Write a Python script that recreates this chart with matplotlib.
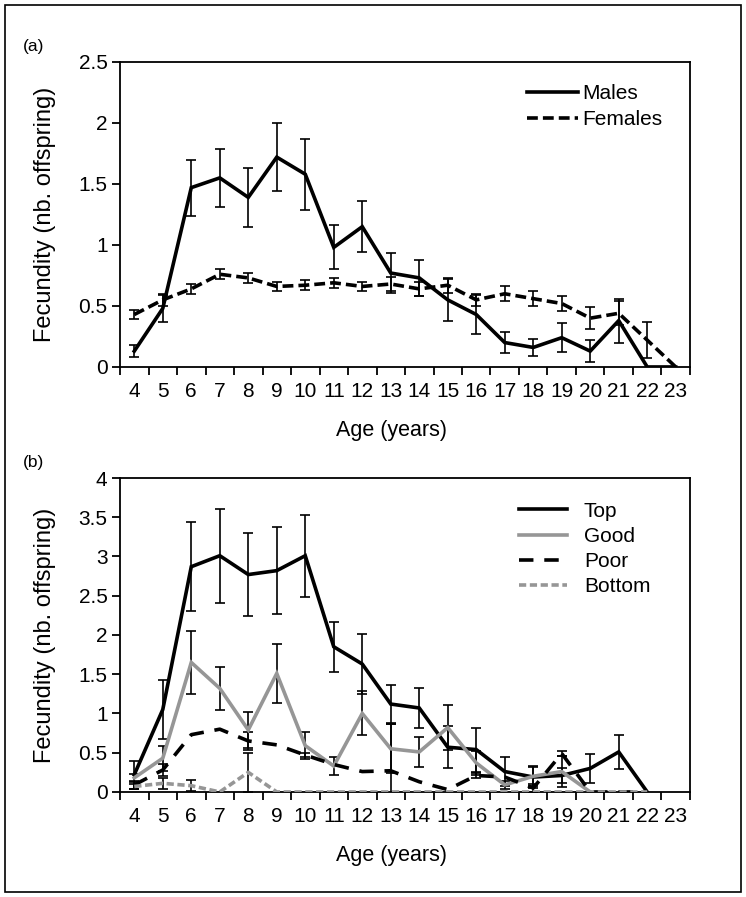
import numpy as np
import matplotlib.pyplot as plt
from matplotlib.patches import Rectangle

plt.rcParams['font.family'] = ['Liberation Sans', 'DejaVu Sans']

nan = np.nan
ages = [str(a) for a in range(4, 24)]

# panel (a): sexes
males = [0.13, 0.48, 1.47, 1.55, 1.39, 1.72, 1.58, 0.98, 1.15, 0.77, 0.73, 0.55, 0.43, 0.20, 0.16, 0.24, 0.13, 0.38, 0.0, 0.0]
males_err = [0.05, 0.11, 0.23, 0.24, 0.24, 0.28, 0.29, 0.18, 0.21, 0.165, 0.15, 0.17, 0.16, 0.085, 0.07, 0.12, 0.09, 0.18, nan, nan]
females = [0.43, 0.55, 0.64, 0.76, 0.73, 0.66, 0.67, 0.69, 0.66, 0.68, 0.64, 0.67, 0.55, 0.60, 0.56, 0.52, 0.40, 0.44, 0.22, 0.0]
females_err = [0.04, 0.05, 0.04, 0.04, 0.04, 0.04, 0.04, 0.04, 0.04, 0.06, 0.06, 0.06, 0.05, 0.06, 0.06, 0.06, 0.09, 0.10, 0.15, nan]

# panel (b): male quality classes
top = [0.22, 1.05, 2.87, 3.01, 2.77, 2.82, 3.01, 1.85, 1.63, 1.12, 1.07, 0.57, 0.54, 0.26, 0.19, 0.21, 0.30, 0.51, 0.0, nan]
top_err = [0.18, 0.38, 0.57, 0.60, 0.53, 0.55, 0.52, 0.32, 0.38, 0.24, 0.26, 0.27, 0.28, 0.19, 0.14, 0.10, 0.18, 0.22, nan, nan]
good = [0.18, 0.43, 1.65, 1.32, 0.79, 1.51, 0.59, 0.33, 1.00, 0.55, 0.51, 0.82, 0.37, 0.09, 0.20, 0.26, 0.0, nan, nan, nan]
good_err = [0.05, 0.16, 0.40, 0.27, 0.23, 0.38, 0.17, 0.11, 0.28, 0.31, 0.19, 0.29, 0.15, 0.05, 0.12, 0.20, nan, nan, nan, nan]
poor = [0.09, 0.28, 0.73, 0.80, 0.65, 0.60, 0.47, 0.35, 0.26, 0.27, 0.13, 0.03, 0.21, 0.19, 0.05, 0.49, 0.0, 0.0, 0.0, nan]
poor_err = [0.05, 0.08, nan, nan, 0.12, nan, 0.03, nan, nan, 0.60, nan, nan, 0.03, nan, 0.05, 0.03, nan, nan, nan, nan]
bottom = [0.07, 0.11, 0.08, 0.0, 0.25, 0.0, 0.0, 0.0, 0.0, 0.0, 0.0, 0.0, 0.0, 0.0, 0.0, 0.0, 0.0, 0.0, 0.0, nan]
bottom_err = [0.03, 0.07, 0.07, nan, 0.25, nan, nan, nan, nan, nan, nan, nan, nan, nan, nan, nan, nan, nan, nan, nan]

GREY = '#969696'
LW = 2.6
FS = 15


def style_axes(ax, ymax, ystep, xlab_y):
    x = np.arange(len(ages))
    ax.set_xlim(-0.5, len(ages) - 0.5)
    ax.set_ylim(0, ymax)
    ax.set_xticks(np.arange(-0.5, len(ages), 1))
    ax.set_xticklabels([])
    ax.set_xticks(x, minor=True)
    ax.set_xticklabels(ages, minor=True, fontsize=FS)
    ax.tick_params(axis='x', which='major', direction='out', length=6, width=1.3)
    ax.tick_params(axis='x', which='minor', length=0, pad=11)
    yt = np.arange(0, ymax + 0.01, ystep)
    ax.set_yticks(yt)
    ax.set_yticklabels(['%g' % v for v in yt], fontsize=FS)
    ax.tick_params(axis='y', direction='out', length=6, width=1.3, pad=3)
    for s in ax.spines.values():
        s.set_linewidth(1.3)
    ax.set_xlabel('Age (years)', fontsize=FS + 0.5)
    ax.xaxis.set_label_coords(0.477, xlab_y)
    ax.set_ylabel('Fecundity (nb. offspring)', fontsize=17)
    ax.yaxis.set_label_coords(-0.113, 0.5)
    return x


def draw(ax, x, y, err, color, dashes, label):
    ax.errorbar(x, y, yerr=err, fmt='none', ecolor='black', elinewidth=1.2,
                capsize=3.6, capthick=1.2, zorder=2)
    line, = ax.plot(x, y, color=color, lw=LW, label=label, zorder=3,
                    solid_joinstyle='miter')
    if dashes:
        line.set_dashes(dashes)
    return line


fig = plt.figure(figsize=(7.46, 8.97), dpi=100)

ax1 = fig.add_axes([0.1609, 0.5909, 0.764, 0.340])
x = style_axes(ax1, 2.5, 0.5, -0.175)
draw(ax1, x, males, males_err, 'black', None, 'Males')
draw(ax1, x, females, females_err, 'black', (3, 1.4), 'Females')
ax1.legend(loc='upper left', bbox_to_anchor=(0.714, 0.927), frameon=False, fontsize=FS,
           handlelength=2.45, handletextpad=0.2, labelspacing=0.33, borderaxespad=0,
           borderpad=0)

ax2 = fig.add_axes([0.1609, 0.1171, 0.764, 0.350])
x = style_axes(ax2, 4, 0.5, -0.168)
draw(ax2, x, top, top_err, 'black', None, 'Top')
draw(ax2, x, good, good_err, GREY, None, 'Good')
draw(ax2, x, poor, poor_err, 'black', (4, 3), 'Poor')
draw(ax2, x, bottom, bottom_err, GREY, (2, 1), 'Bottom')
ax2.legend(loc='upper left', bbox_to_anchor=(0.70, 0.925), frameon=False, fontsize=FS,
           handlelength=2.3, handletextpad=0.82, labelspacing=0.3, borderaxespad=0,
           borderpad=0)

fig.text(0.031, 1 - 47 / 897, '(a)', fontsize=12.5, va='center')
fig.text(0.031, 1 - 462 / 897, '(b)', fontsize=12.5, va='center')

fig.patches.append(Rectangle((0.007, 0.006), 0.986, 0.988, transform=fig.transFigure,
                             fill=False, edgecolor='black', lw=1.2))

fig.savefig('out.png', dpi=100)
